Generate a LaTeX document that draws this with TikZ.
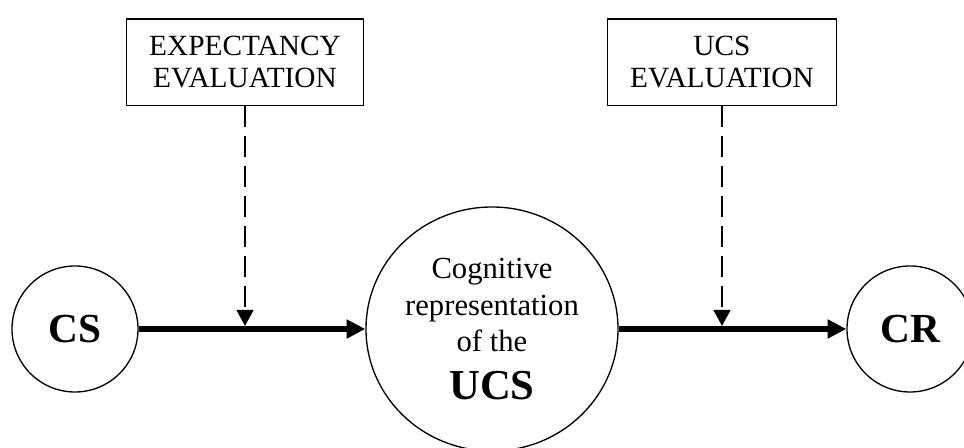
\documentclass[tikz,border=0pt]{standalone}
\usepackage{fontspec}
\setmainfont{Liberation Serif}
\usetikzlibrary{arrows.meta,shapes.geometric}

\begin{document}
\begin{tikzpicture}[x=0.75pt, y=0.75pt,
    evalbox/.style={draw, line width=1pt, minimum height=65pt, inner xsep=17pt, align=center, font=\fontsize{22}{24}\selectfont},
    stimulus/.style={draw, circle, line width=1pt, minimum size=94.5pt, inner sep=0pt, font=\fontsize{31}{33}\selectfont\bfseries},
    mainarrow/.style={line width=4.5pt, -{Triangle[length=14pt, width=13.5pt]}},
    evalarrow/.style={line width=1.8pt, dash pattern=on 15.5pt off 7pt, -{Triangle[length=12pt, width=12.5pt]}}]

      \useasboundingbox (0,0) rectangle (964,448);

      % stimuli and response
      \node[stimulus] (cs) at (75,119) {CS};
      \node[draw, ellipse, line width=1pt, minimum width=189pt, minimum height=183pt, inner sep=0pt, align=center,
            font=\fontsize{23}{27.5}\selectfont] (rep) at (492,119)
            {Cognitive\\representation\\of the\\[8pt]{\fontsize{32}{34}\selectfont\bfseries UCS}};
      \node[stimulus] (cr) at (910,119) {CR};

      % evaluations
      \node[evalbox] (expect) at (245,385.5) {EXPECTANCY\\EVALUATION};
      \node[evalbox] (ucseval) at (722,385.5) {UCS\\EVALUATION};

      \draw[mainarrow] (cs) -- (rep);
      \draw[mainarrow] (rep) -- (cr);

      \path (expect.south |- cs.center) ++(0,3) coordinate (hit1);
      \path (ucseval.south |- cr.center) ++(0,3) coordinate (hit2);

      \draw[evalarrow] (expect.south) -- (hit1);
      \draw[evalarrow] (ucseval.south) -- (hit2);

    \end{tikzpicture}
\end{document}
